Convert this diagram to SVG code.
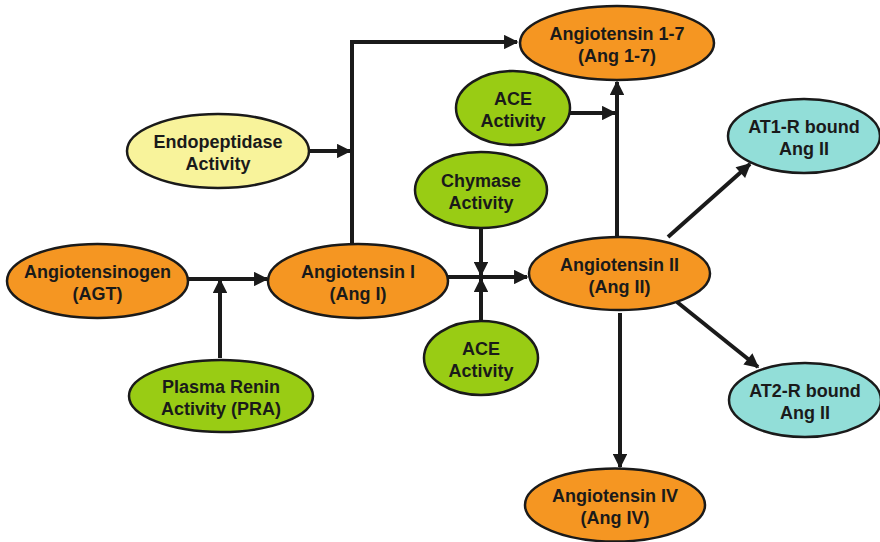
<svg xmlns="http://www.w3.org/2000/svg" width="880" height="542" viewBox="0 0 880 542">
  <style>
    .node ellipse { stroke: #1a1a1a; stroke-width: 2.5; }
    .orange ellipse { fill: #f59622; }
    .green ellipse { fill: #99cc14; }
    .yellow ellipse { fill: #f8f39b; }
    .cyan ellipse { fill: #92ded8; }
    .node text { font-family: "Liberation Sans", Arial, sans-serif; font-weight: bold; font-size: 18px; fill: #1a1a1a; text-anchor: middle; }
    .edges path { fill: none; stroke: #1a1a1a; stroke-width: 4; }
  </style>
  <defs>
    <marker id="arrow" viewBox="0 0 10 10" refX="9" refY="5" markerWidth="3.8" markerHeight="3.6" orient="auto" markerUnits="strokeWidth">
      <path d="M0,0 L10,5 L0,10 Z" fill="#1a1a1a"/>
    </marker>
  </defs>

  <!-- connectors -->
  <g class="edges">
    <path d="M188,279 H267" marker-end="url(#arrow)"/>
    <path d="M220,358 V280" marker-end="url(#arrow)"/>
    <path d="M352,245 V42 H517" marker-end="url(#arrow)"/>
    <path d="M309,151 H350" marker-end="url(#arrow)"/>
    <path d="M570,113 H615" marker-end="url(#arrow)"/>
    <path d="M617,237 V82" marker-end="url(#arrow)"/>
    <path d="M448,277 H527" marker-end="url(#arrow)"/>
    <path d="M481,228 V275" marker-end="url(#arrow)"/>
    <path d="M481,321 V279" marker-end="url(#arrow)"/>
    <path d="M668,237 L750,164" marker-end="url(#arrow)"/>
    <path d="M677,302 L758,367" marker-end="url(#arrow)"/>
    <path d="M620,313 V467" marker-end="url(#arrow)"/>
  </g>

  <!-- nodes -->
  <g id="agt" class="node orange">
    <ellipse cx="97.5" cy="281" rx="90.5" ry="37"/>
    <text x="97.5" y="278">Angiotensinogen</text>
    <text x="97.5" y="300">(AGT)</text>
  </g>
  <g id="pra" class="node green">
    <ellipse cx="221" cy="396" rx="92" ry="36"/>
    <text x="221" y="393">Plasma Renin</text>
    <text x="221" y="415">Activity (PRA)</text>
  </g>
  <g id="ang1" class="node orange">
    <ellipse cx="358" cy="281" rx="90" ry="37"/>
    <text x="358" y="278">Angiotensin I</text>
    <text x="358" y="300">(Ang I)</text>
  </g>
  <g id="endopeptidase" class="node yellow">
    <ellipse cx="218" cy="151" rx="91" ry="37"/>
    <text x="218" y="148">Endopeptidase</text>
    <text x="218" y="170">Activity</text>
  </g>
  <g id="ang17" class="node orange">
    <ellipse cx="617" cy="43" rx="97" ry="37"/>
    <text x="617" y="40">Angiotensin 1-7</text>
    <text x="617" y="62">(Ang 1-7)</text>
  </g>
  <g id="ace-top" class="node green">
    <ellipse cx="513" cy="108" rx="57" ry="37"/>
    <text x="513" y="105">ACE</text>
    <text x="513" y="127">Activity</text>
  </g>
  <g id="chymase" class="node green">
    <ellipse cx="481" cy="190" rx="66" ry="38"/>
    <text x="481" y="187">Chymase</text>
    <text x="481" y="209">Activity</text>
  </g>
  <g id="ang2" class="node orange">
    <ellipse cx="619.5" cy="273.5" rx="90.5" ry="36.5"/>
    <text x="619.5" y="271">Angiotensin II</text>
    <text x="619.5" y="293">(Ang II)</text>
  </g>
  <g id="ace-bottom" class="node green">
    <ellipse cx="481" cy="358" rx="57" ry="37"/>
    <text x="481" y="355">ACE</text>
    <text x="481" y="377">Activity</text>
  </g>
  <g id="at1r" class="node cyan">
    <ellipse cx="804" cy="136" rx="76" ry="37"/>
    <text x="804" y="133">AT1-R bound</text>
    <text x="804" y="155">Ang II</text>
  </g>
  <g id="at2r" class="node cyan">
    <ellipse cx="805" cy="400" rx="76" ry="37"/>
    <text x="805" y="397">AT2-R bound</text>
    <text x="805" y="419">Ang II</text>
  </g>
  <g id="ang4" class="node orange">
    <ellipse cx="615" cy="505" rx="90" ry="36.5"/>
    <text x="615" y="502">Angiotensin IV</text>
    <text x="615" y="524">(Ang IV)</text>
  </g>
</svg>
